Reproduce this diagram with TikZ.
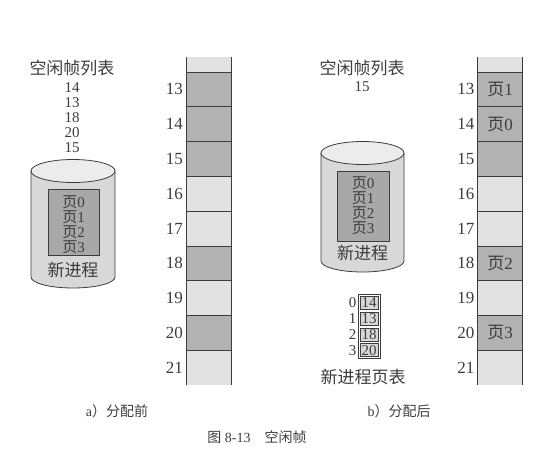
\documentclass[tikz,border=0pt]{standalone}
\usepackage{fontspec}
\setmainfont{Liberation Serif}
\newfontfamily\cjk{Noto Sans CJK SC}
\usetikzlibrary{positioning}
\definecolor{mInk}{RGB}{60,60,60}
\definecolor{mDark}{RGB}{178,178,178}
\definecolor{mLight}{RGB}{226,226,226}
\definecolor{mBody}{RGB}{216,216,216}
\definecolor{mTop}{RGB}{236,236,236}
\definecolor{mPage}{RGB}{168,168,168}
\tikzset{
  frame/.style={minimum width=45pt, minimum height=34.8pt, inner sep=0pt, outer sep=0pt},
  rule/.style={draw=mInk, line width=0.9pt},
  lbl/.style={text=mInk, font=\fontsize{17}{17}\selectfont, inner sep=0pt},
  pglbl/.style={text=mInk, font=\fontsize{15}{15}\selectfont, inner sep=0pt},
  captxt/.style={text=mInk, font=\fontsize{14}{14}\selectfont, inner sep=0pt},
  cyl/.style={draw=mInk, line width=0.8pt, fill=mBody},
  cyltop/.style={draw=mInk, line width=0.8pt, fill=mTop},
  pgbox/.style={draw=mInk, line width=0.8pt, fill=mPage, minimum width=51pt, inner sep=0pt},
  ptcell/.style={draw=mInk, line width=0.7pt, fill=mBody, minimum width=18pt, minimum height=13pt, inner sep=0pt, text=mInk, font=\fontsize{15}{15}\selectfont}
}
\begin{document}
\begin{tikzpicture}[x=1pt,y=-1pt]
  \useasboundingbox (0,0) rectangle (555,464);
  % Free frame list (before)
  \node[lbl] (lhead) at (72,68) {\cjk 空闲帧列表};
  \foreach \n [count=\k] in {14,13,18,20,15}
    \node[pglbl] (lfree\k) at (72,{72+\k*15.2}) {\n};
  % Disk (before)
  \filldraw[cyl] (31,171) -- (31,277) arc[start angle=180,end angle=0,x radius=42,y radius=11] -- (115,171) -- cycle;
  \filldraw[cyltop] (73,171) ellipse[x radius=42,y radius=11.5];
  \node[pgbox, minimum height=66pt] (lpg) at (73.5,222) {};
  \foreach \p in {0,...,3}
    \node[pglbl] (lp\p) at (73.5,{202+\p*15}) {{\cjk 页}\p};
  \node[lbl] (lproc) at (73,270) {\cjk 新进程};
  % Frames (before)
  \node[frame, fill=mLight, minimum height=15pt] (a12) at (208.5,64.5) {};
  \foreach \n/\c in {13/mDark,14/mDark,15/mDark,16/mLight,17/mLight,18/mDark,19/mLight,20/mDark,21/mLight} {
    \node[frame, fill=\c] (a\n) at (208.5,{89.4+(\n-13)*34.8}) {};
    \node[lbl, anchor=east] (al\n) at ([xshift=-3pt]a\n.west) {\n};
    \draw[rule] (a\n.north west) -- (a\n.north east);
  }
  \draw[rule] (a12.north west) -- (a21.south west) (a12.north east) -- (a21.south east);
  % Free frame list (after)
  \node[lbl] (rhead) at (362,68) {\cjk 空闲帧列表};
  \node[pglbl] (rfree1) at (362,87) {15};
  % Disk (after)
  \filldraw[cyl] (321,153) -- (321,261) arc[start angle=180,end angle=0,x radius=41.5,y radius=11] -- (404,153) -- cycle;
  \filldraw[cyltop] (362.5,153) ellipse[x radius=41.5,y radius=11.5];
  \node[pgbox, minimum width=52pt, minimum height=70pt] (rpg) at (363,206) {};
  \foreach \p in {0,...,3}
    \node[pglbl] (rp\p) at (363,{183+\p*15}) {{\cjk 页}\p};
  \node[lbl] (rproc) at (362.5,253) {\cjk 新进程};
  % Page table
  \foreach \v [count=\k from 0] in {14,13,18,20} {
    \node[ptcell] (pt\k) at (369,{303+\k*15.75}) {\v};
    \node[pglbl, anchor=east] (pi\k) at ([xshift=-3pt]pt\k.west) {\k};
  }
  \draw[mInk, line width=0.7pt] ([xshift=-1.8pt,yshift=1.5pt]pt0.north west) rectangle ([xshift=1.8pt,yshift=-1.5pt]pt3.south east);
  \node[lbl] (ptname) at (363,377) {\cjk 新进程页表};
  % Frames (after)
  \node[frame, fill=mLight, minimum height=15pt] (b12) at (500,64.5) {};
  \foreach \n/\c in {13/mDark,14/mDark,15/mDark,16/mLight,17/mLight,18/mDark,19/mLight,20/mDark,21/mLight} {
    \node[frame, fill=\c] (b\n) at (500,{89.4+(\n-13)*34.8}) {};
    \node[lbl, anchor=east] (bl\n) at ([xshift=-3pt]b\n.west) {\n};
    \draw[rule] (b\n.north west) -- (b\n.north east);
  }
  \draw[rule] (b12.north west) -- (b21.south west) (b12.north east) -- (b21.south east);
  \foreach \n/\p in {13/1,14/0,18/2,20/3}
    \node[lbl] (bp\n) at (b\n) {{\cjk 页}\p};
  % Captions
  \node[captxt] (capa) at (117,411) {a{\cjk ）分配前}};
  \node[captxt] (capb) at (399,411) {b{\cjk ）分配后}};
  \node[captxt] (capfig) at (257,437) {{\cjk 图} 8-13\quad{\cjk 空闲帧}};
\end{tikzpicture}
\end{document}
